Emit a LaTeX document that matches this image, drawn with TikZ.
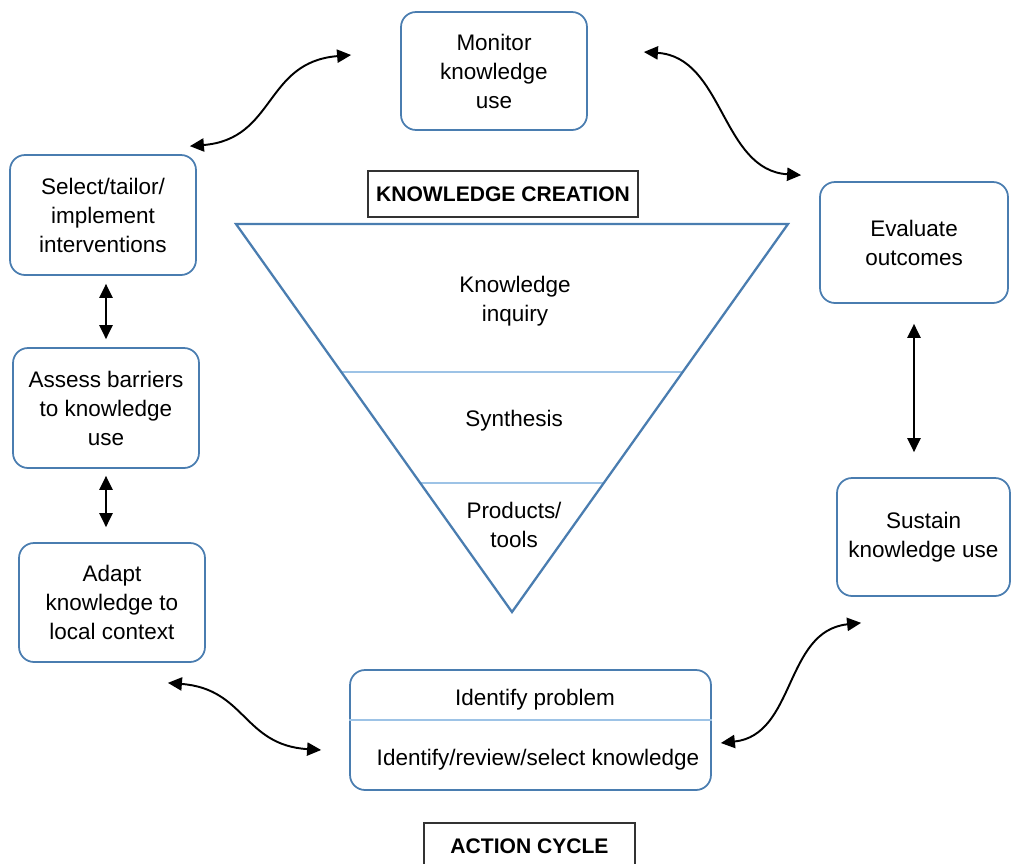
\documentclass[tikz,border=0pt]{standalone}
\usepackage{fontspec}
\setmainfont{Liberation Sans}
\usepackage{tikz}
\usetikzlibrary{arrows.meta}
\usetikzlibrary{calc}

\definecolor{boxblue}{HTML}{4A7DB0}
\definecolor{lineblue}{HTML}{9DC3E6}
\definecolor{labelgray}{HTML}{333333}

\tikzset{
  cyclebox/.style={draw=boxblue, line width=1pt, rounded corners=0.3cm, align=center,
    inner sep=0pt, minimum width=3.72cm, minimum height=2.4cm},
  titlebox/.style={draw=labelgray, line width=0.8pt, inner sep=0pt, minimum height=0.92cm,
    font=\fontsize{12}{14}\selectfont\bfseries},
  tritext/.style={align=center},
  cycarrow/.style={line width=1.1pt, >={Triangle[length=8pt,width=7.5pt]}, <->},
  divline/.style={draw=lineblue, line width=0.8pt},
}

\begin{document}
\begin{tikzpicture}[x=0.02cm, y=-0.02cm, font=\fontsize{12.8}{16.5}\selectfont]
                \useasboundingbox (0,0) rectangle (1011,863);
                \clip (0,0) rectangle (1011,863);

                % Action cycle boxes
                \node[cyclebox, minimum height=2.36cm] (mon) at (494,71) {Monitor\\knowledge\\use};
                \node[cyclebox] (sel) at (103,215) {Select/tailor/\\implement\\interventions};
                \node[cyclebox] (ass) at (106,408) {Assess barriers\\to knowledge\\use};
                \node[cyclebox, minimum height=2.38cm] (adp) at (112,602.5) {Adapt\\knowledge to\\local context};
                \node[cyclebox, minimum width=3.76cm, minimum height=2.42cm] (eva) at (914,242.5) {Evaluate\\outcomes};
                \node[cyclebox, minimum width=3.46cm, minimum height=2.36cm] (sus) at (923.5,537) {Sustain\\knowledge use};

                % Bottom box, split in two
                \node[cyclebox, minimum width=7.22cm] (idb) at (530.5,730) {};
                \draw[divline] ([yshift=0.2cm]idb.west) -- ([yshift=0.2cm]idb.east);
                \node (prob) at (535,700) {Identify problem};
                \node (rev) at (538,760) {Identify/review/select knowledge};

                % Titles
                \node[titlebox, minimum width=5.4cm] (kc) at (503,194) {KNOWLEDGE CREATION};
                \node[titlebox, minimum width=4.22cm] (ac) at (529.5,846) {ACTION CYCLE};

                % Funnel
                \coordinate (tl) at (236,224);
                \coordinate (tr) at (788,224);
                \coordinate (apex) at (512,612);
                \draw[divline] ($(tl)!0.381!(apex)$) -- ($(tr)!0.381!(apex)$);
                \draw[divline] ($(tl)!0.668!(apex)$) -- ($(tr)!0.668!(apex)$);
                \draw[boxblue, line width=1.3pt] (tl) -- (tr) -- (apex) -- cycle;
                \node[tritext] (inq) at (515,301) {Knowledge\\inquiry};
                \node[tritext] (syn) at (514,421) {Synthesis};
                \node[tritext] (prod) at (514,525) {Products/\\tools};

                % Curved arrows round the cycle
                \draw[cycarrow] ([shift={(-7,-8)}]sel.north east) .. controls +(86,-7) and +(-87,7) .. ([shift={(-49,-16)}]mon.west);
                \draw[cycarrow] ([shift={(56,-19)}]mon.east) .. controls +(80,5) and +(-80,-5) .. ([shift={(-18,-6)}]eva.north west);
                \draw[cycarrow] ([shift={(-38,20)}]adp.south east) .. controls +(78,6) and +(-78,-5) .. ([shift={(-28,20)}]idb.west);
                \draw[cycarrow] ([shift={(9,13)}]idb.east) .. controls +(75,-8) and +(-77,8) .. ([shift={(25,26)}]sus.south west);

                % Straight arrows
                \draw[cycarrow, shorten <=0.16cm, shorten >=0.16cm] (sel.south -| ass.north) -- (ass.north);
                \draw[cycarrow, shorten <=0.14cm, shorten >=0.3cm] (ass.south) -- (ass.south |- adp.north);
                \draw[cycarrow, shorten <=0.4cm, shorten >=0.5cm] (eva.south) -- (eva.south |- sus.north);
            \end{tikzpicture}
\end{document}
